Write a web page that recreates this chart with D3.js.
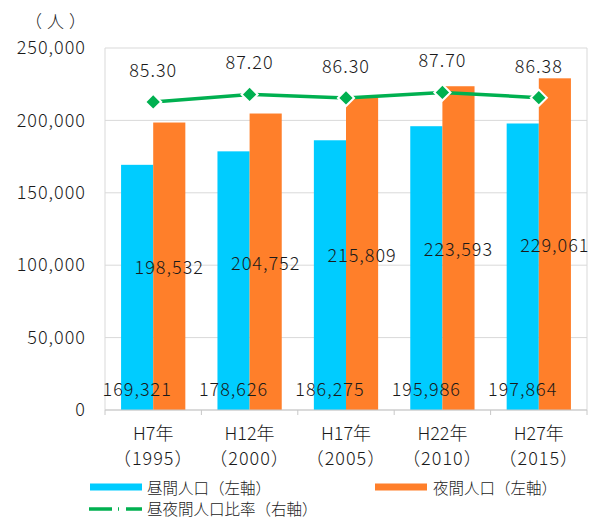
<!DOCTYPE html>
<html>
<head>
<meta charset="utf-8">
<script src="https://cdn.jsdelivr.net/npm/d3@7"></script>
<style>
  body { margin: 0; background: #fff; }
  text { font-family: "Noto Sans CJK JP", "Liberation Sans", sans-serif; fill: #1a1a1a; font-weight: 300; }
</style>
</head>
<body>
<div id="chart"></div>
<script>
// data
const categories = ["H7年", "H12年", "H17年", "H22年", "H27年"];
const years = ["（1995）", "（2000）", "（2005）", "（2010）", "（2015）"];
const dayPop = [169321, 178626, 186275, 195986, 197864];
const nightPop = [198532, 204752, 215809, 223593, 229061];
const ratio = [85.30, 87.20, 86.30, 87.70, 86.38];
const yTicks = [0, 50000, 100000, 150000, 200000, 250000];

const width = 590, height = 519;
const margin = { top: 48, right: 3, bottom: 109, left: 105 };
const cyan = "#00CCFF", orange = "#FF7F2A", green = "#00B050";

const svg = d3.select("#chart")
  .append("svg")
  .attr("width", width)
  .attr("height", height);

// scales
const x0 = d3.scaleBand()
  .domain(categories)
  .range([margin.left, width - margin.right])
  .paddingInner(1 / 3)
  .paddingOuter(1 / 6);

const x1 = d3.scaleBand()
  .domain(["day", "night"])
  .range([0, x0.bandwidth()]);

const y = d3.scaleLinear()
  .domain([0, 250000])
  .range([height - margin.bottom, margin.top]);

// right axis is not drawn
const yR = d3.scaleLinear()
  .domain([7, 99])
  .range([height - margin.bottom, margin.top]);

// gridlines
svg.append("g")
  .selectAll("line")
  .data(yTicks)
  .enter()
  .append("line")
  .attr("x1", margin.left)
  .attr("x2", width - margin.right)
  .attr("y1", (d) => y(d))
  .attr("y2", (d) => y(d))
  .attr("stroke", "#d9d9d9");

// plot border sides
svg.append("line")
  .attr("x1", margin.left).attr("x2", margin.left)
  .attr("y1", margin.top).attr("y2", y(0))
  .attr("stroke", "#d9d9d9");
svg.append("line")
  .attr("x1", width - margin.right).attr("x2", width - margin.right)
  .attr("y1", margin.top).attr("y2", y(0))
  .attr("stroke", "#d9d9d9");

// y axis labels
svg.append("g")
  .attr("transform", `translate(${margin.left}, 0)`)
  .call(d3.axisLeft(y).tickValues(yTicks).tickFormat(d3.format(",")).tickSize(0).tickPadding(19))
  .call((g) => g.select(".domain").remove())
  .selectAll("text")
  .attr("font-size", "18px")
  .attr("letter-spacing", "1px")
  .attr("font-family", null)
  .attr("fill", null);

svg.append("text")
  .attr("x", 25)
  .attr("y", 20)
  .attr("dominant-baseline", "central")
  .attr("font-size", "17px")
  .attr("letter-spacing", "5px")
  .text("（人）");

// bars
const groups = svg.append("g")
  .selectAll("g")
  .data(categories)
  .enter()
  .append("g")
  .attr("transform", (d) => `translate(${x0(d)},0)`);

groups.append("rect")
  .attr("x", x1("day"))
  .attr("width", x1.bandwidth())
  .attr("y", (d, i) => y(dayPop[i]))
  .attr("height", (d, i) => y(0) - y(dayPop[i]))
  .attr("fill", cyan);

groups.append("rect")
  .attr("x", x1("night"))
  .attr("width", x1.bandwidth())
  .attr("y", (d, i) => y(nightPop[i]))
  .attr("height", (d, i) => y(0) - y(nightPop[i]))
  .attr("fill", orange);

// x axis line and ticks
svg.append("line")
  .attr("x1", margin.left).attr("x2", width - margin.right)
  .attr("y1", y(0)).attr("y2", y(0))
  .attr("stroke", "#c8c8c8");

const step = x0.step();
svg.append("g")
  .selectAll("line")
  .data(d3.range(categories.length + 1))
  .enter()
  .append("line")
  .attr("x1", (d) => margin.left + d * step)
  .attr("x2", (d) => margin.left + d * step)
  .attr("y1", y(0))
  .attr("y2", y(0) + 5)
  .attr("stroke", "#c8c8c8");

// x labels
const center = (d) => x0(d) + x0.bandwidth() / 2;
svg.append("g")
  .selectAll("text")
  .data(categories)
  .enter()
  .append("text")
  .attr("x", center)
  .attr("y", 432)
  .attr("text-anchor", "middle")
  .attr("dominant-baseline", "central")
  .attr("font-size", "18px")
  .text((d) => d);

svg.append("g")
  .selectAll("text")
  .data(years)
  .enter()
  .append("text")
  .attr("x", (d, i) => center(categories[i]))
  .attr("y", 457)
  .attr("text-anchor", "middle")
  .attr("dominant-baseline", "central")
  .attr("font-size", "18px")
  .attr("letter-spacing", "1px")
  .text((d) => d);

// line
const line = d3.line()
  .x((d, i) => center(categories[i]))
  .y((d) => yR(d));

svg.append("path")
  .datum(ratio)
  .attr("d", line)
  .attr("fill", "none")
  .attr("stroke", green)
  .attr("stroke-width", 3.5);

svg.append("g")
  .selectAll("path")
  .data(ratio)
  .enter()
  .append("path")
  .attr("d", d3.symbol().type(d3.symbolSquare).size(130))
  .attr("transform", (d, i) => `translate(${center(categories[i])},${yR(d)}) rotate(45)`)
  .attr("fill", green)
  .attr("stroke", "#fff")
  .attr("stroke-width", 2);

// value labels
const fmt = d3.format(",");
groups.append("text")
  .attr("x", x1("day") + x1.bandwidth() / 2)
  .attr("y", 388)
  .attr("text-anchor", "middle")
  .attr("dominant-baseline", "central")
  .attr("font-size", "18px")
  .attr("letter-spacing", "1px")
  .text((d, i) => fmt(dayPop[i]));

groups.append("text")
  .attr("x", x1("night") + x1.bandwidth() / 2)
  .attr("y", (d, i) => (y(nightPop[i]) + y(0)) / 2)
  .attr("text-anchor", "middle")
  .attr("dominant-baseline", "central")
  .attr("font-size", "18px")
  .attr("letter-spacing", "1px")
  .text((d, i) => fmt(nightPop[i]));

svg.append("g")
  .selectAll("text")
  .data(ratio)
  .enter()
  .append("text")
  .attr("x", (d, i) => center(categories[i]))
  .attr("y", (d) => yR(d) - 33)
  .attr("text-anchor", "middle")
  .attr("dominant-baseline", "central")
  .attr("font-size", "18px")
  .attr("letter-spacing", "1px")
  .text((d) => d.toFixed(2));

// legend
const legend = svg.append("g");
legend.append("line")
  .attr("x1", 90).attr("x2", 142).attr("y1", 487).attr("y2", 487)
  .attr("stroke", cyan).attr("stroke-width", 7);
legend.append("text")
  .attr("x", 147).attr("y", 487)
  .attr("dominant-baseline", "central")
  .attr("font-size", "15.5px")
  .text("昼間人口（左軸）");

legend.append("line")
  .attr("x1", 375).attr("x2", 427).attr("y1", 487).attr("y2", 487)
  .attr("stroke", orange).attr("stroke-width", 7);
legend.append("text")
  .attr("x", 433).attr("y", 487)
  .attr("dominant-baseline", "central")
  .attr("font-size", "15.5px")
  .text("夜間人口（左軸）");

legend.append("line")
  .attr("x1", 89).attr("x2", 142).attr("y1", 509).attr("y2", 509)
  .attr("stroke", green).attr("stroke-width", 3.5)
  .attr("stroke-dasharray", "23 6 1 7 30");
legend.append("text")
  .attr("x", 147).attr("y", 508)
  .attr("dominant-baseline", "central")
  .attr("font-size", "15.5px")
  .text("昼夜間人口比率（右軸）");
</script>
</body>
</html>
